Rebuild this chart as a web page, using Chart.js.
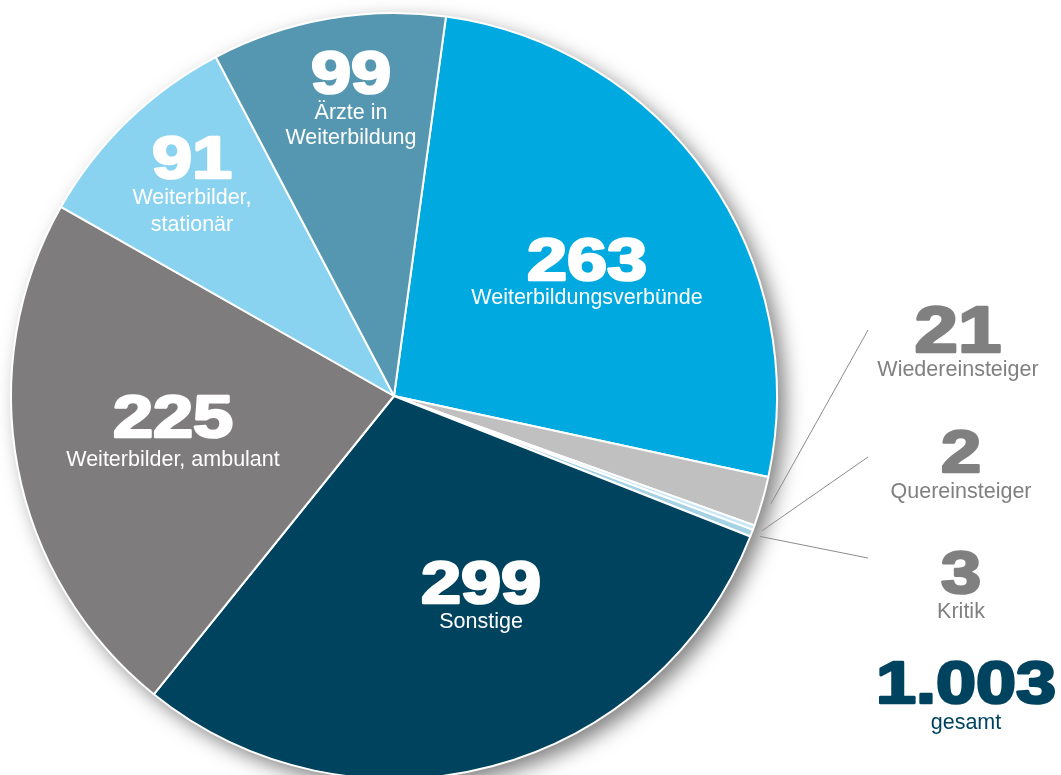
<!DOCTYPE html>
<html lang="de">
<head>
<meta charset="utf-8">
<title>Anfragen nach Kategorie</title>
<script src="https://cdn.jsdelivr.net/npm/chart.js@4/dist/chart.umd.min.js"></script>
<style>
  html, body { margin: 0; padding: 0; background: #ffffff; overflow: hidden; width: 1061px; height: 775px; }
  #wrap { position: relative; width: 1061px; height: 800px; }
  canvas { display: block; }
</style>
</head>
<body>
<div id="wrap"><canvas id="pie" width="1061" height="800"></canvas></div>
<script>
// Anfragen nach Kategorie (im Uhrzeigersinn ab "Weiterbildungsverbünde")
const categories = [
  'Weiterbildungsverbünde',
  'Wiedereinsteiger',
  'Quereinsteiger',
  'Kritik',
  'Sonstige',
  'Weiterbilder, ambulant',
  'Weiterbilder, stationär',
  'Ärzte in Weiterbildung'
];
const values = [263, 21, 2, 3, 299, 225, 91, 99];
const sliceColors = ['#00a9e0', '#c0c0c0', '#c9e8f5', '#a6d2e6', '#00435f', '#7f7c7d', '#89d2f0', '#5597b0'];
const totalLabel = 'gesamt';

// Beschriftungen: Zeilen pro Segment
const labelLines = [
  ['Weiterbildungsverbünde'],
  ['Wiedereinsteiger'],
  ['Quereinsteiger'],
  ['Kritik'],
  ['Sonstige'],
  ['Weiterbilder, ambulant'],
  ['Weiterbilder,', 'stationär'],
  ['Ärzte in', 'Weiterbildung']
];

// Position der Beschriftungen (Mitte x, Grundlinie der Zahl, Mitte der Textzeilen)
const labelLayout = [
  { x: 587, base: 280, lines: [298], inside: true },
  { x: 958, base: 352, lines: [370], inside: false, size: 65, anchor: [868, 330] },
  { x: 961, base: 472, lines: [492], inside: false, anchor: [868, 457] },
  { x: 961, base: 593, lines: [612], inside: false, anchor: [868, 558] },
  { x: 481, base: 603, lines: [622], inside: true },
  { x: 173, base: 437, lines: [460], inside: true },
  { x: 192, base: 178, lines: [198, 225], inside: true },
  { x: 351, base: 93,  lines: [113, 138], inside: true }
];
const totalLayout = { x: 966, base: 703, line: 723, color: '#00435f' };

const outsideGray = '#808080';
const fmt = v => v.toLocaleString('de-DE');

// Breite, fette Ziffern
function drawBigNumber(ctx, text, x, baseline, size, color) {
  ctx.save();
  ctx.translate(x, baseline);
  ctx.scale(1.2, 1);
  ctx.font = 'bold ' + size + 'px "Liberation Sans", Arial, sans-serif';
  ctx.textAlign = 'center';
  ctx.textBaseline = 'alphabetic';
  ctx.fillStyle = color;
  ctx.strokeStyle = color;
  ctx.lineWidth = 2.6;
  ctx.lineJoin = 'round';
  ctx.fillText(text, 0, 0);
  ctx.strokeText(text, 0, 0);
  ctx.restore();
}

function drawLine(ctx, text, x, y, color) {
  ctx.save();
  ctx.font = '21.5px "Liberation Sans", Arial, sans-serif';
  ctx.textAlign = 'center';
  ctx.textBaseline = 'middle';
  ctx.fillStyle = color;
  ctx.fillText(text, x, y);
  ctx.restore();
}

// Schatten unter dem Kreis
const pieShadow = {
  id: 'pieShadow',
  beforeDatasetsDraw(chart) {
    const arc = chart.getDatasetMeta(0).data[0];
    if (!arc) return;
    const ctx = chart.ctx;
    ctx.save();
    ctx.shadowColor = 'rgba(0,0,0,0.5)';
    ctx.shadowBlur = 20;
    ctx.shadowOffsetX = 8;
    ctx.shadowOffsetY = 8;
    ctx.fillStyle = '#ffffff';
    ctx.beginPath();
    ctx.arc(arc.x, arc.y, arc.outerRadius, 0, Math.PI * 2);
    ctx.fill();
    ctx.restore();
  }
};

// Zahlen, Texte und Hinweislinien
const pieLabels = {
  id: 'pieLabels',
  afterDatasetsDraw(chart) {
    const ctx = chart.ctx;
    const meta = chart.getDatasetMeta(0);
    values.forEach((v, i) => {
      const L = labelLayout[i];
      const color = L.inside ? '#ffffff' : outsideGray;
      if (!L.inside) {
        const arc = meta.data[i];
        const a = (arc.startAngle + arc.endAngle) / 2;
        const r = arc.outerRadius + 9;
        ctx.save();
        ctx.strokeStyle = '#8c8c8c';
        ctx.lineWidth = 1;
        ctx.beginPath();
        ctx.moveTo(arc.x + Math.cos(a) * r, arc.y + Math.sin(a) * r);
        ctx.lineTo(L.anchor[0], L.anchor[1]);
        ctx.stroke();
        ctx.restore();
      }
      drawBigNumber(ctx, fmt(v), L.x, L.base, L.size || 60, color);
      labelLines[i].forEach((t, k) => drawLine(ctx, t, L.x, L.lines[k], color));
    });
    const total = values.reduce((s, v) => s + v, 0);
    drawBigNumber(ctx, fmt(total), totalLayout.x, totalLayout.base, 60, totalLayout.color);
    drawLine(ctx, totalLabel, totalLayout.x, totalLayout.line, totalLayout.color);
  }
};

new Chart(document.getElementById('pie'), {
  type: 'pie',
  data: {
    labels: categories,
    datasets: [{
      data: values,
      backgroundColor: sliceColors,
      borderColor: '#ffffff',
      borderWidth: 2
    }]
  },
  options: {
    responsive: false,
    animation: false,
    rotation: 7.8,
    layout: { padding: { left: 10, right: 283, top: 12, bottom: 20 } },
    plugins: {
      legend: { display: false },
      tooltip: { enabled: false }
    }
  },
  plugins: [pieShadow, pieLabels]
});
</script>
</body>
</html>
